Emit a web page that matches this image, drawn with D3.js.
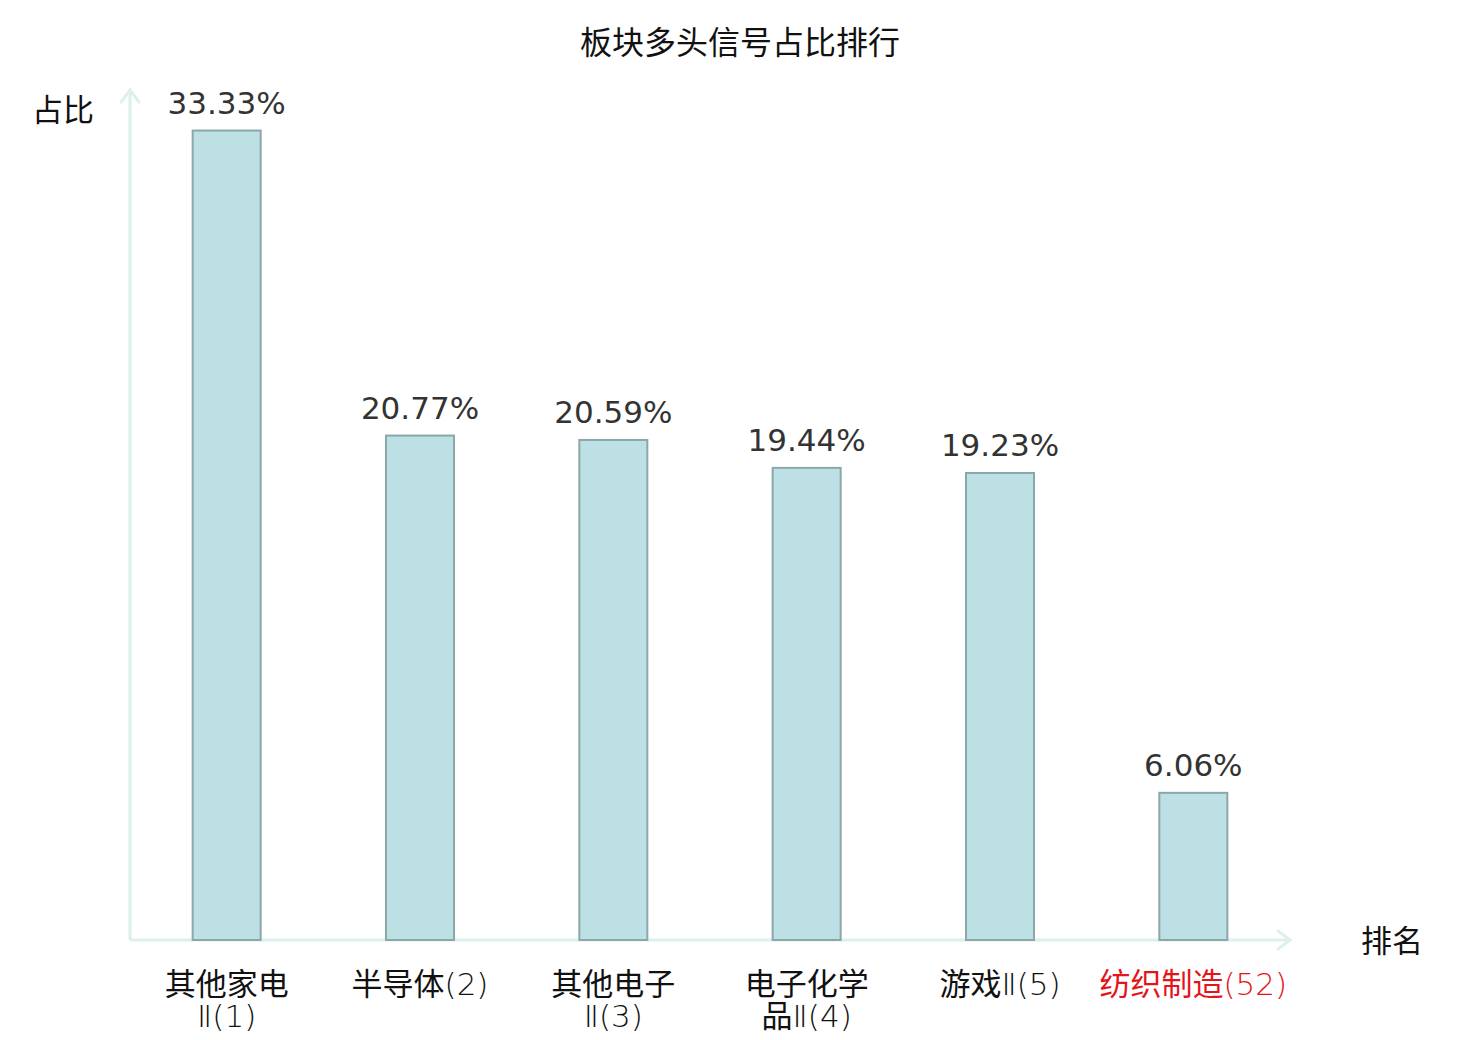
<!DOCTYPE html>
<html><head><meta charset="utf-8">
<script src="https://cdn.jsdelivr.net/npm/d3@7/dist/d3.min.js"></script>
<style>
body{margin:0;background:#fff;}
svg{display:block;}
</style></head>
<body>
<svg id="chart" width="1480" height="1040"></svg>
<script>
const title = "板块多头信号占比排行";
const categories = ["其他家电Ⅱ", "半导体", "其他电子Ⅱ", "电子化学品Ⅱ", "游戏Ⅱ", "纺织制造"];
const ranks = [1, 2, 3, 4, 5, 52];
const values = [33.33, 20.77, 20.59, 19.44, 19.23, 6.06];
const highlight = [false, false, false, false, false, true];
const yAxisName = "占比";
const xAxisName = "排名";

const svg = d3.select("#chart");
const cjk = "'Noto Sans CJK SC', 'Noto Sans', sans-serif";
const numFont = "'DejaVu Sans', sans-serif";

const x0 = 130, x1 = 1290, yBase = 940, yTop = 90;
const x = d3.scaleBand().domain(categories).range([x0, x1]).paddingInner(0).paddingOuter(0);
const y = d3.scaleLinear().domain([0, 35]).range([yBase, yTop]);
const barW = 68;

svg.append("text").attr("x", 740).attr("y", 54).attr("text-anchor", "middle")
  .style("font-family", cjk).style("font-size", "32px").attr("fill", "#111").text(title);

// axes
const axisColor = "#dcf0ed";
const g = svg.append("g");
g.append("line").attr("x1", x0).attr("y1", yBase).attr("x2", x0).attr("y2", yTop - 1)
  .attr("stroke", axisColor).attr("stroke-width", 3);
g.append("path").attr("d", `M${x0-9},${yTop+12} L${x0},${yTop} L${x0+9},${yTop+12}`)
  .attr("fill", "none").attr("stroke", axisColor).attr("stroke-width", 3).attr("stroke-linecap","round");
g.append("line").attr("x1", x0).attr("y1", yBase).attr("x2", x1 + 1).attr("y2", yBase)
  .attr("stroke", axisColor).attr("stroke-width", 3);
g.append("path").attr("d", `M${x1-12},${yBase-9} L${x1},${yBase} L${x1-12},${yBase+9}`)
  .attr("fill", "none").attr("stroke", axisColor).attr("stroke-width", 3).attr("stroke-linecap","round");

svg.append("text").attr("x", 63).attr("y", 121).attr("text-anchor", "middle")
  .style("font-family", cjk).style("font-size", "31px").attr("fill", "#111").text(yAxisName);
svg.append("text").attr("x", 1392).attr("y", 952).attr("text-anchor", "middle")
  .style("font-family", cjk).style("font-size", "31px").attr("fill", "#111").text(xAxisName);

// bars
const data = categories.map((c, i) => ({c, v: values[i], r: ranks[i], h: highlight[i]}));
svg.append("g").selectAll("rect").data(data).join("rect")
  .attr("x", d => x(d.c) + x.bandwidth()/2 - barW/2)
  .attr("width", barW)
  .attr("y", d => y(d.v))
  .attr("height", d => yBase - y(d.v))
  .attr("fill", "#bce0e3").attr("stroke", "#8ba7a7").attr("stroke-width", 2);

svg.append("g").selectAll("text").data(data).join("text")
  .attr("x", d => x(d.c) + x.bandwidth()/2)
  .attr("y", d => y(d.v) - 17)
  .attr("text-anchor", "middle")
  .style("font-family", numFont).style("font-size", "31px").attr("fill", "#333")
  .text(d => d.v.toFixed(2) + "%");

// category labels
const isCJK = ch => /[\u3400-\u9fff]/.test(ch);
const lg = svg.append("g");
data.forEach(d => {
  const full = d.c + "(" + d.r + ")";
  const chars = Array.from(full);
  const lines = Array.from(d.c).length > 4 ? [chars.slice(0, 4).join(""), chars.slice(4).join("")] : [full];
  lines.forEach((ln, k) => {
    const t = lg.append("text")
      .attr("x", x(d.c) + x.bandwidth()/2).attr("y", 995 + k * 32)
      .attr("text-anchor", "middle")
      .style("font-size", "31px")
      .attr("fill", d.h ? "#e5141b" : "#111");
    // split into runs of CJK / non-CJK
    const runs = [];
    Array.from(ln).forEach(ch => {
      const c = isCJK(ch);
      if (runs.length && runs[runs.length-1].c === c) runs[runs.length-1].s += ch;
      else runs.push({c, s: ch});
    });
    runs.forEach(r => {
      t.append("tspan").text(r.s)
        .style("font-family", r.c ? cjk : numFont)
        .style("font-weight", r.c ? 400 : 200);
    });
  });
});
</script>
</body></html>
